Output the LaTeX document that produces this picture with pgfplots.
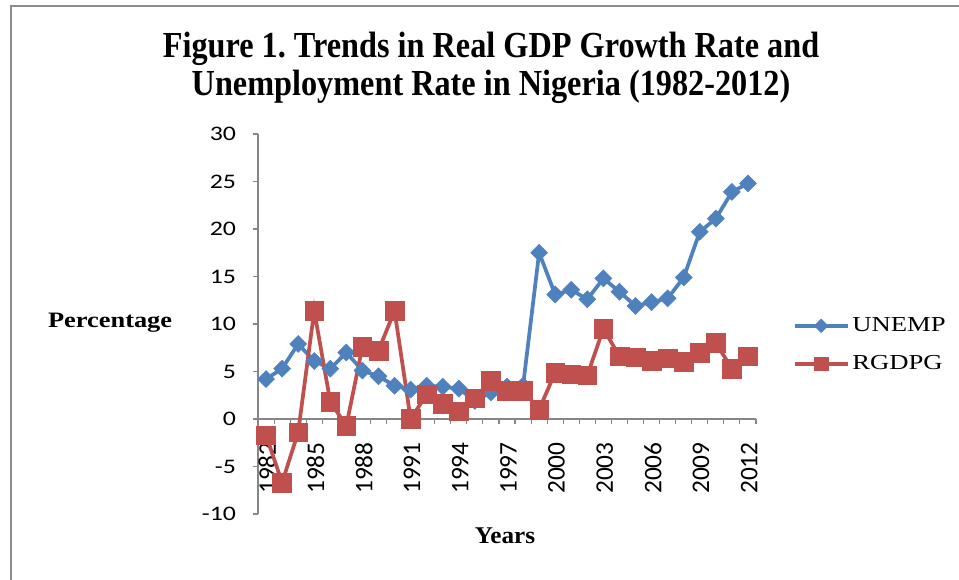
\documentclass[border=0pt]{standalone}
\usepackage{fontspec}
\setmainfont{Liberation Serif}
\usepackage{pgfplots}
\pgfplotsset{compat=1.18}
\newfontfamily\tickfont[FakeStretch=1.25]{Carlito}
\newfontfamily\xtickfont{Carlito}
\newfontfamily\titlefont[FakeStretch=0.88]{Liberation Serif}
\newfontfamily\labfont[FakeStretch=1.2]{Liberation Serif}
\newfontfamily\yearfont[FakeStretch=1.05]{Liberation Serif}
\newfontfamily\legfont[FakeStretch=1.25]{Liberation Serif}
\definecolor{unemp}{HTML}{4F81BD}
\definecolor{rgdp}{HTML}{C0504D}
\definecolor{axgray}{HTML}{868686}
\definecolor{frame}{HTML}{8C8C8C}
\frenchspacing

\begin{document}
\begin{tikzpicture}
\path[use as bounding box] (-193.5pt,-48.75pt) rectangle (525.75pt,385.5pt);
\draw[frame, line width=1.5pt] (-185.6pt,-60pt) -- (-185.6pt,381pt) -- (540pt,381pt);
\begin{axis}[
  at={(0,0)}, anchor=south west,
  scale only axis, width=373.5pt, height=285pt,
  clip=false,
  axis y line=left, axis x line=middle,
  axis line style={-, axgray, line width=0.8pt},
  tick style={axgray, line width=0.8pt},
  tick align=outside, major tick length=4pt,
  xmin=1981.5, xmax=2012.5, ymin=-10, ymax=30,
  ytick={-10,-5,0,5,10,15,20,25,30},
  yticklabels={-10,-5,0,5,10,15,20,25,30},
  yticklabel style={font=\tickfont\fontsize{15.5}{18}\selectfont, xshift=-9pt},
  xtick={1981.5,1982.5,...,2012.5}, xticklabels={},
  extra x ticks={1982,1985,1988,1991,1994,1997,2000,2003,2006,2009,2012},
  extra x tick labels={1982,1985,1988,1991,1994,1997,2000,2003,2006,2009,2012},
  extra x tick style={major tick length=0pt},
  xticklabel style={font=\xtickfont\fontsize{19}{21}\selectfont, rotate=90, anchor=east, xshift=-14pt, yshift=-1pt},
  title={Figure 1. Trends in Real GDP Growth Rate and\\Unemployment Rate in Nigeria (1982-2012)},
  every axis title/.style={at={(axis description cs:0.468,1.174)}, anchor=center, align=center,
    font=\titlefont\bfseries\fontsize{27.5}{28.5}\selectfont},
  ylabel={Percentage},
  every axis y label/.style={at={(axis description cs:-0.297,0.503)}, anchor=center,
    font=\labfont\bfseries\fontsize{16.5}{18}\selectfont},
  xlabel={Years},
  every axis x label/.style={at={(axis description cs:0.496,-0.058)}, anchor=center,
    font=\yearfont\bfseries\fontsize{18}{20}\selectfont},
  legend style={at={(1.065,0.445)}, anchor=west, draw=none, fill=none,
    font=\legfont\fontsize{16}{18}\selectfont, row sep=12.5pt,
    nodes={inner sep=2pt}},
  legend cell align=left,
  legend image code/.code={%
    \draw[mark repeat=2,mark phase=2,#1] plot coordinates {(0pt,0pt) (20pt,0pt) (40pt,0pt)};},
]
\addplot[unemp, line width=2.8pt, mark=square*, mark size=4.5pt,
  mark options={rotate=45, solid, line width=0.4pt},
  legend image post style={mark size=3.6pt}] coordinates {
(1982,4.2) (1983,5.3) (1984,7.9) (1985,6.1) (1986,5.3) (1987,7.0) (1988,5.1)
(1989,4.5) (1990,3.5) (1991,3.1) (1992,3.5) (1993,3.4) (1994,3.2) (1995,1.9)
(1996,2.8) (1997,3.4) (1998,3.5) (1999,17.5) (2000,13.1) (2001,13.6) (2002,12.6)
(2003,14.8) (2004,13.4) (2005,11.9) (2006,12.3) (2007,12.7) (2008,14.9)
(2009,19.7) (2010,21.1) (2011,23.9) (2012,24.8)};
\addlegendentry{UNEMP}
\addplot[rgdp, line width=2.8pt, mark=square*, mark size=7pt,
  mark options={solid, line width=0.4pt},
  legend image post style={mark size=5pt}] coordinates {
(1982,-1.7) (1983,-6.7) (1984,-1.4) (1985,11.4) (1986,1.8) (1987,-0.7) (1988,7.6)
(1989,7.2) (1990,11.4) (1991,0.0) (1992,2.6) (1993,1.6) (1994,0.8) (1995,2.2)
(1996,4.0) (1997,3.0) (1998,3.0) (1999,1.0) (2000,4.9) (2001,4.7) (2002,4.6)
(2003,9.5) (2004,6.6) (2005,6.5) (2006,6.1) (2007,6.4) (2008,6.0)
(2009,7.0) (2010,8.0) (2011,5.3) (2012,6.6)};
\addlegendentry{RGDPG}
\end{axis}
\end{tikzpicture}
\end{document}
